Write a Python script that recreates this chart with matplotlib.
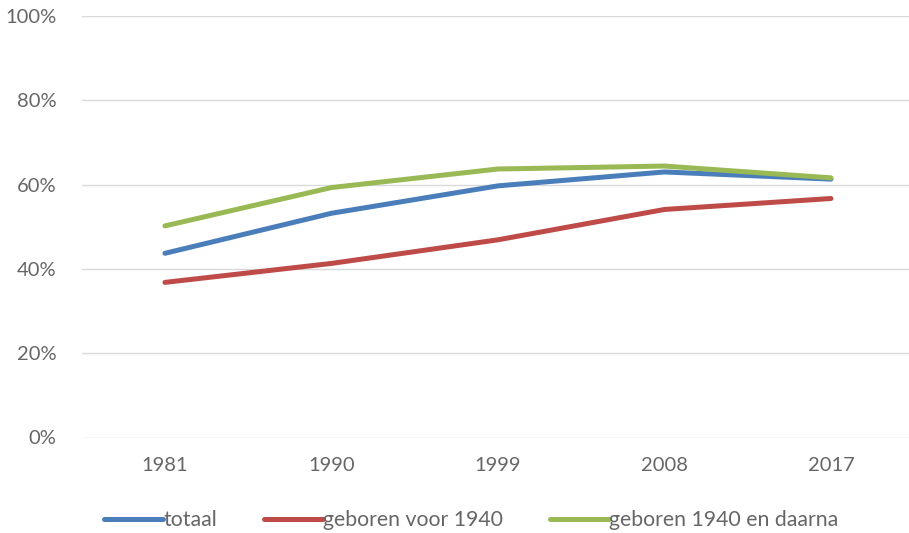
import matplotlib
matplotlib.use('Agg')
import matplotlib.pyplot as plt
from matplotlib.ticker import PercentFormatter

years = ['1981', '1990', '1999', '2008', '2017']
totaal = [43.7, 53.2, 59.7, 63.0, 61.3]
voor_1940 = [36.8, 41.3, 46.9, 54.1, 56.7]
na_1940 = [50.2, 59.3, 63.7, 64.4, 61.6]

y_ticks = [0, 20, 40, 60, 80, 100]

plt.rcParams['font.family'] = ['Lato', 'DejaVu Sans']
text_color = '#666666'

fig = plt.figure(figsize=(9.09, 5.33), dpi=100)
ax = fig.add_axes([81.7 / 909, 95.5 / 533, 832.5 / 909, 421.5 / 533])

xs = range(len(years))
lw = 3.6
ax.plot(xs, totaal, color='#4a7ebb', lw=lw, solid_capstyle='round', solid_joinstyle='round', label='totaal', zorder=3)
ax.plot(xs, voor_1940, color='#be4b48', lw=lw, solid_capstyle='round', solid_joinstyle='round', label='geboren voor 1940', zorder=3)
ax.plot(xs, na_1940, color='#98b954', lw=lw, solid_capstyle='round', solid_joinstyle='round', label='geboren 1940 en daarna', zorder=4)

ax.set_xlim(-0.5, len(years) - 0.5)
ax.set_ylim(0, 100)
ax.set_xticks(list(xs))
ax.set_xticklabels(years)
ax.set_yticks(y_ticks)
ax.yaxis.set_major_formatter(PercentFormatter(decimals=0))

ax.grid(axis='y', color='#d9d9d9', lw=1.0)
ax.set_axisbelow(True)
for s in ax.spines.values():
    s.set_visible(False)
ax.tick_params(axis='both', length=0, labelsize=14.5, colors=text_color)
ax.tick_params(axis='y', pad=18)
ax.tick_params(axis='x', pad=14)

leg = fig.legend(loc='center', bbox_to_anchor=(471 / 909, 13 / 533), ncol=3, frameon=False,
                 fontsize=15.3, handlelength=2.8, handletextpad=0.0, columnspacing=2.2,
                 labelcolor=text_color)
for h in leg.get_lines():
    h.set_solid_capstyle('round')

fig.savefig('out.png', dpi=100)
